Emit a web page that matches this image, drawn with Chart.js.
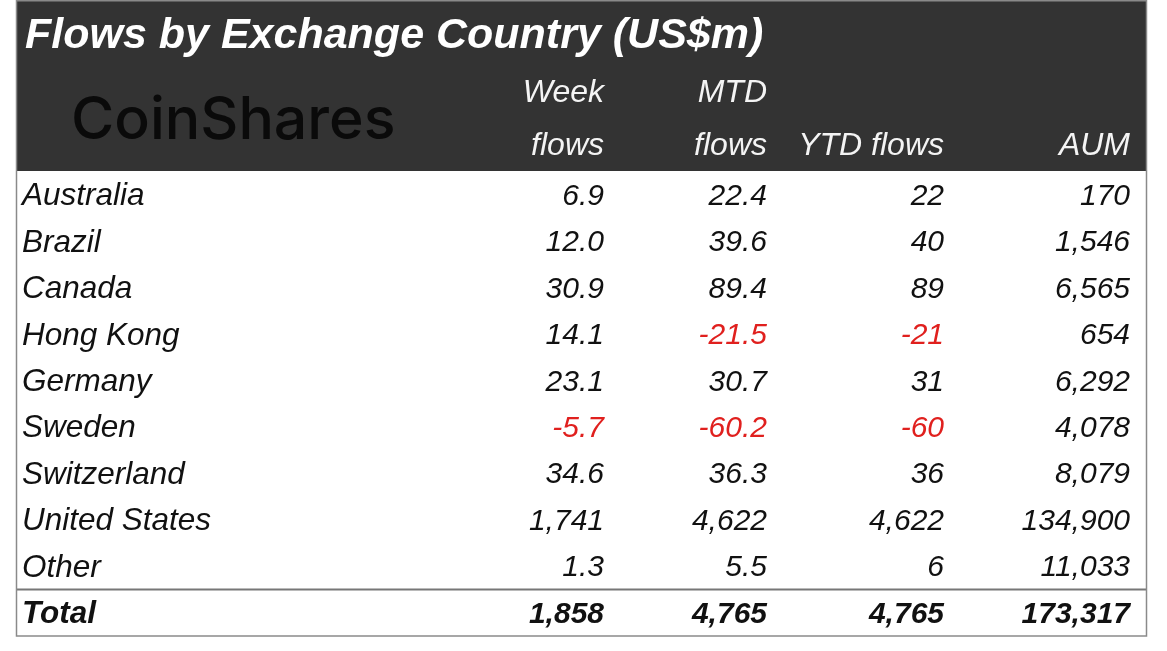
<!DOCTYPE html>
<html>
<head>
<meta charset="utf-8">
<script src="https://cdn.jsdelivr.net/npm/chart.js@4.4.1/dist/chart.umd.min.js"></script>
<style>
  html, body { margin: 0; padding: 0; background: #fff; }
  #wrap { width: 1167px; height: 651px; position: relative; }
</style>
</head>
<body>
<div id="wrap"><canvas id="flows"></canvas></div>
<script>
// table data
const title = 'Flows by Exchange Country (US$m)';
const countries = ['Australia', 'Brazil', 'Canada', 'Hong Kong', 'Germany', 'Sweden', 'Switzerland', 'United States', 'Other', 'Total'];
const headTop = ['Week', 'MTD', '', ''];
const headBottom = ['flows', 'flows', 'YTD flows', 'AUM'];
const weekFlows = [6.9, 12.0, 30.9, 14.1, 23.1, -5.7, 34.6, 1741, 1.3, 1858];
const mtdFlows = [22.4, 39.6, 89.4, -21.5, 30.7, -60.2, 36.3, 4622, 5.5, 4765];
const ytdFlows = [22, 40, 89, -21, 31, -60, 36, 4622, 6, 4765];
const aum = [170, 1546, 6565, 654, 6292, 4078, 8079, 134900, 11033, 173317];

// layout (x units = pixels inside the chart area)
const colAnchor = [6, 588, 751, 928, 1114];
const colDecimals = [1, 1, 0, 0];
const FONT = '"Liberation Sans", Arial, sans-serif';

function fmt(v, d) {
    const dec = Math.abs(v) >= 1000 ? 0 : d;
    return v.toLocaleString('en-US', { minimumFractionDigits: dec, maximumFractionDigits: dec });
}

const columns = [weekFlows, mtdFlows, ytdFlows, aum];
const datasets = [{
    label: 'name',
    data: countries.map(c => ({ x: colAnchor[0], y: c })),
    texts: countries,
    align: 'left',
    size: 31.5
}].concat(columns.map((vals, i) => ({
    label: 'col' + i,
    data: vals.map((v, r) => ({ x: colAnchor[i + 1], y: countries[r] })),
    texts: vals.map(v => fmt(v, colDecimals[i])),
    values: vals,
    align: 'right',
    size: 30
})));
datasets.forEach(d => { d.pointRadius = 0; d.pointHoverRadius = 0; });

const tablePlugin = {
    id: 'tablePlugin',
    beforeDraw(chart) {
        const { ctx, chartArea: a, scales } = chart;
        ctx.save();
        ctx.fillStyle = '#ffffff';
        ctx.fillRect(0, 0, chart.width, chart.height);
        // header block
        ctx.fillStyle = '#333333';
        ctx.fillRect(a.left, 1, a.right - a.left, a.top - 2);
        // separator above Total
        const ySep = (scales.y.getPixelForValue(8) + scales.y.getPixelForValue(9)) / 2;
        ctx.strokeStyle = '#777777';
        ctx.lineWidth = 2;
        ctx.beginPath();
        ctx.moveTo(a.left, ySep);
        ctx.lineTo(a.right, ySep);
        ctx.stroke();
        // outer border
        ctx.strokeStyle = '#8a8a8a';
        ctx.lineWidth = 1.5;
        ctx.strokeRect(a.left + 0.5, 0.75, a.right - a.left - 1, a.bottom - 0.75);

        // title
        ctx.fillStyle = '#ffffff';
        ctx.textBaseline = 'middle';
        ctx.textAlign = 'left';
        ctx.font = 'italic bold 43px ' + FONT;
        ctx.fillText(title, a.left + 9, 36);
        // logo text
        ctx.fillStyle = '#0a0a0a';
        ctx.font = '500 59px Inter, "Liberation Sans", sans-serif';
        ctx.fillText('CoinShares', a.left + 55, 121);
        // column headers
        ctx.fillStyle = '#f4f4f4';
        ctx.textAlign = 'right';
        ctx.font = 'italic 32px ' + FONT;
        const xs = scales.x;
        headTop.forEach((t, i) => { if (t) ctx.fillText(t, xs.getPixelForValue(colAnchor[i + 1]), 93); });
        headBottom.forEach((t, i) => ctx.fillText(t, xs.getPixelForValue(colAnchor[i + 1]), 146));
        ctx.restore();
    },
    afterDatasetsDraw(chart) {
        const { ctx } = chart;
        ctx.save();
        ctx.textBaseline = 'middle';
        chart.data.datasets.forEach((ds, di) => {
            const meta = chart.getDatasetMeta(di);
            meta.data.forEach((el, r) => {
                const isTotal = r === countries.length - 1;
                ctx.font = (isTotal ? 'italic bold ' : 'italic ') + ds.size + 'px ' + FONT;
                ctx.textAlign = ds.align;
                ctx.fillStyle = ds.values && ds.values[r] < 0 ? '#e0201e' : '#111111';
                ctx.fillText(ds.texts[r], el.x, el.y + 1.5);
            });
        });
        ctx.restore();
    }
};

new Chart(document.getElementById('flows'), {
    type: 'scatter',
    data: { datasets: datasets },
    options: {
        responsive: true,
        maintainAspectRatio: false,
        animation: false,
        events: [],
        layout: { padding: { left: 16, right: 20, top: 172, bottom: 15 } },
        plugins: { legend: { display: false }, tooltip: { enabled: false } },
        scales: {
            x: { type: 'linear', min: 0, max: 1131, display: false },
            y: { type: 'category', labels: countries, offset: true, display: false }
        }
    },
    plugins: [tablePlugin]
});
</script>
</body>
</html>
